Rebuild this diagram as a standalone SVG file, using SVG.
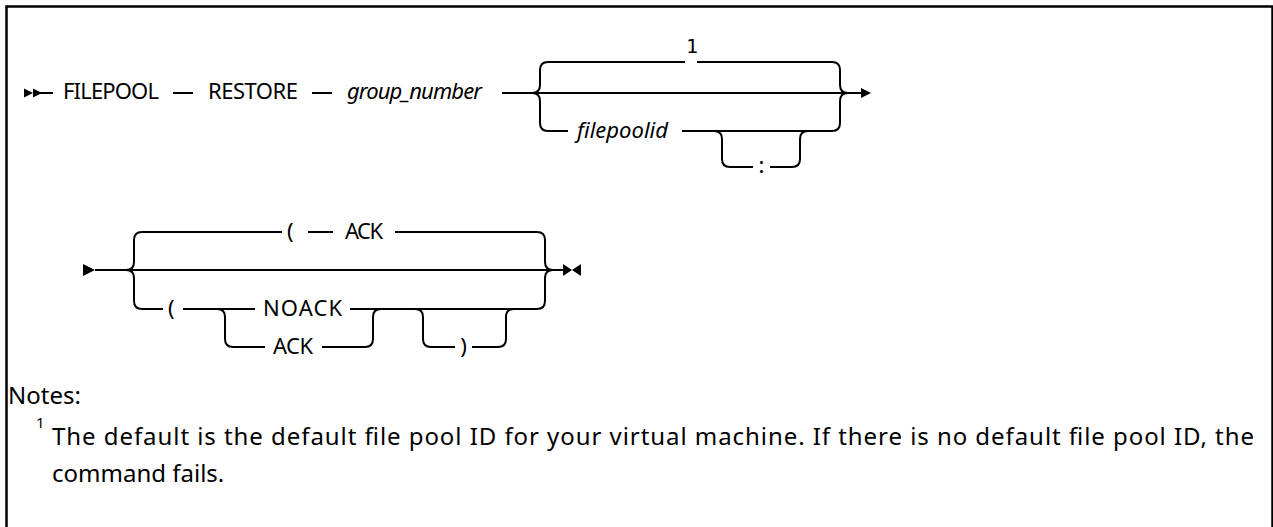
<svg xmlns="http://www.w3.org/2000/svg" width="1273" height="527" viewBox="0 0 1273 527">
<style>
.rail{fill:none;stroke:#000;stroke-width:2}
.t{font-family:"Noto Sans","Liberation Sans",Arial,sans-serif;font-size:22px;fill:#000}
.n{font-family:"Noto Sans","Liberation Sans",Arial,sans-serif;font-size:24px;fill:#000}
.i{font-style:italic}
.mono{font-family:"DejaVu Sans Mono","Liberation Mono",monospace;font-size:20px;fill:#000}
.ah{fill:#000}
</style>
<rect x="6.5" y="6.5" width="1266" height="620" fill="#fff" stroke="#000" stroke-width="2.5"/>
<g id="connectors">
  <!-- row 1 -->
  <path class="rail" d="M40,93 H53 M173,93 H193 M312,93 H332 M502,93 H862"/>
  <path class="rail" d="M532,93 Q540,93 540,85 V70 Q540,62 548,62 H685 M697,62 H832 Q840,62 840,70 V85 Q840,93 848,93"/>
  <path class="rail" d="M532,93 Q540,93 540,101 V123 Q540,131 548,131 H568 M682,131 H832 Q840,131 840,123 V101 Q840,93 848,93"/>
  <path class="rail" d="M714,131 Q722,131 722,139 V159 Q722,167 730,167 H753 M770,167 H792 Q800,167 800,159 V139 Q800,131 808,131"/>
  <!-- row 2 -->
  <path class="rail" d="M95,270 H563"/>
  <path class="rail" d="M126,270 Q134,270 134,262 V240 Q134,232 142,232 H282 M308,232 H333 M395,232 H537 Q545,232 545,240 V262 Q545,270 553,270"/>
  <path class="rail" d="M126,270 Q134,270 134,278 V301 Q134,309 142,309 H163 M183,309 H255 M350,309 H537 Q545,309 545,301 V278 Q545,270 553,270"/>
  <path class="rail" d="M217,309 Q225,309 225,317 V339 Q225,347 233,347 H265 M322,347 H365 Q373,347 373,339 V317 Q373,309 381,309"/>
  <path class="rail" d="M415,309 Q423,309 423,317 V339 Q423,347 431,347 H455 M472,347 H498 Q506,347 506,339 V317 Q506,309 514,309"/>
  <!-- markers -->
  <polygon class="ah" points="24,88.5 33,93 24,97.5"/>
  <polygon class="ah" points="33,88.5 42,93 33,97.5"/>
  <polygon class="ah" points="861,88 871,93 861,98"/>
  <polygon class="ah" points="83,264 95,270 83,276"/>
  <polygon class="ah" points="563,264 572,270 563,276"/>
  <polygon class="ah" points="581,264 572,270 581,276"/>
</g>
<g id="n-filepool"><text class="t" x="63" y="98.5" textLength="96">FILEPOOL</text></g>
<g id="n-restore"><text class="t" x="208" y="98.5" textLength="90">RESTORE</text></g>
<g id="n-group"><text class="t i" x="347" y="98.5" textLength="135">group_number</text></g>
<g id="n-note1"><text class="mono" x="692" y="53" text-anchor="middle">1</text></g>
<g id="n-filepoolid"><text class="t i" x="577" y="137.5" textLength="91">filepoolid</text></g>
<g id="n-colon"><text class="t" x="761.5" y="173" text-anchor="middle">:</text></g>
<g id="n-lparen1"><text class="t" x="287" y="238.5">(</text></g>
<g id="n-ack1"><text class="t" x="345" y="238.5" textLength="38">ACK</text></g>
<g id="n-lparen2"><text class="t" x="168" y="315.5">(</text></g>
<g id="n-noack"><text class="t" x="263" y="315.5" textLength="79">NOACK</text></g>
<g id="n-ack2"><text class="t" x="273" y="353.5" textLength="40">ACK</text></g>
<g id="n-rparen"><text class="t" x="463.5" y="353.5" text-anchor="middle">)</text></g>
<g id="notes">
  <text class="n" x="8" y="404">Notes:</text>
  <text class="n" x="36" y="428" style="font-size:15px">1</text>
  <text class="n" x="52" y="445" textLength="1202">The default is the default file pool ID for your virtual machine. If there is no default file pool ID, the</text>
  <text class="n" x="52" y="482">command fails.</text>
</g>
</svg>
